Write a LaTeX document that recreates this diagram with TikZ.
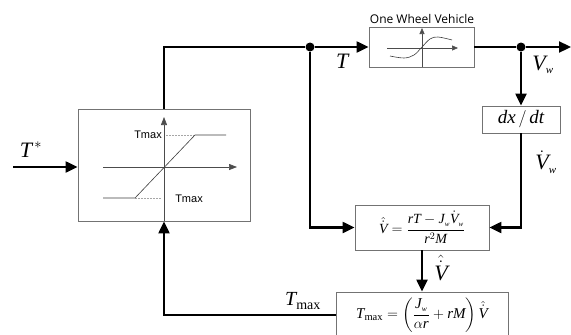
\documentclass[tikz,border=0pt]{standalone}
\usepackage{amsmath}
\usepackage{fontspec}
\setmainfont{Liberation Serif}
\newfontfamily\uisans{Open Sans}
\newfontfamily\arialf{Liberation Sans}
\usetikzlibrary{arrows.meta,calc}
\newcommand\mi[1]{\textit{#1}}
\newcommand\sw{_{\scriptscriptstyle\mi{w}}}
\begin{document}
\begin{tikzpicture}[x=1pt,y=-1pt,
  blk/.style={draw=black!55,line width=0.9pt,fill=white,inner sep=0pt},
  wire/.style={line width=2.3pt,black},
  arr/.style={wire,-{Triangle[length=12pt,width=11pt]}},
  dotn/.style={circle,fill=black,inner sep=0pt,minimum size=9pt},
  ax/.style={line width=0.7pt,black!70,-{Triangle[length=8pt,width=6pt]}},
  curve/.style={line width=0.6pt,black!75},
  dsh/.style={line width=0.6pt,black!35,dashed,dash pattern=on 2pt off 1pt},
  biglbl/.style={inner sep=0pt,font=\fontsize{22}{24}\selectfont},
  midlbl/.style={inner sep=0pt,font=\fontsize{20}{22}\selectfont},
  small/.style={inner sep=0pt,font=\arialf\fontsize{11}{12}\selectfont}]
\useasboundingbox (0,0) rectangle (571,335);
\clip (0,0) rectangle (571,335);
% blocks
\node[blk,minimum width=172pt,minimum height=112pt] (sat) at (164,165) {};
\node[blk,minimum width=105pt,minimum height=40pt] (owv) at (421.5,47) {};
\node[blk,minimum width=78pt,minimum height=27pt,font=\fontsize{19}{21}\selectfont] (dxdt) at (521,119.5) {$\mi{dx}\,/\,\mi{dt}$};
\node[blk,minimum width=134pt,minimum height=45pt,font=\fontsize{14}{16}\selectfont] (vhat) at (422,227.5)
  {$\hat{\dot{\mi{V}}}=\dfrac{\mi{rT}-\mi{J}\sw\dot{\mi{V}}\sw}{\mi{r}^{2}\mi{M}}$};
\node[blk,minimum width=172pt,minimum height=46pt,font=\fontsize{15}{17}\selectfont] (tmx) at (422,315)
  {$\mi{T}_{\mathrm{max}}=\left(\dfrac{\mi{J}\sw}{\alpha\mi{r}}+\mi{rM}\right)\hat{\dot{\mi{V}}}$};
\node[inner sep=0pt,font=\uisans\fontsize{12}{14}\selectfont] (owvt) at (422,19) {One Wheel Vehicle};
% junctions
\node[dotn] (jT) at (310,47) {};
\node[dotn] (jV) at (521,47) {};
\coordinate (in) at (13,167);
\coordinate (out) at (571,47);
% saturation graph
\draw[ax] (164,221) -- (164,117);
\draw[ax] (103,167) -- (237,167);
\draw[dsh] (166,135) -- (195,135);
\draw[dsh] (135,198) -- (162,198);
\draw[curve] (103,198) -- (135,198) -- (195,135) -- (226,135);
\node[small] (tm1) at (148,135) {Tmax};
\node[small] (tm2) at (189,199) {Tmax};
% one wheel vehicle graph
\draw[ax,line width=0.6pt,-{Triangle[length=6pt,width=5pt]}] (387,48) -- (458,48);
\draw[ax,line width=0.6pt,-{Triangle[length=6pt,width=5pt]}] (422,67) -- (422,28);
\draw[curve] plot[smooth,tension=0.6] coordinates {(390,56) (404,58) (414,55) (422,47) (430,39) (438,37) (452,40)};
% connectors
\draw[arr] (in) -- (in -| sat.west);
\draw[wire] (sat.north) |- (jT);
\draw[arr] (jT) -- (owv.west);
\draw[wire] (owv.east) -- (jV);
\draw[arr] (jV) -- (out);
\draw[arr] (jV) -- (dxdt.north);
\draw[arr] (dxdt.south) |- (vhat.east);
\draw[arr] (jT) |- (vhat.west);
\draw[arr] (vhat.south) -- (tmx.north);
\draw[arr] (tmx.west) -| (sat.south);
% labels
\node[biglbl] (lTs) at (31,150) {$\mi{T}^{\,*}$};
\node[biglbl] (lT) at (343,61) {\mi{T}};
\node[biglbl] (lVw) at (543,65) {$\mi{V}\sw$};
\node[biglbl] (lVd) at (546,162) {$\dot{\mi{V}}\sw$};
\node[biglbl] (lVh) at (441,268) {$\hat{\dot{\mi{V}}}$};
\node[midlbl] (lTm) at (303,301) {$\mi{T}_{\mathrm{max}}$};
\end{tikzpicture}
\end{document}
